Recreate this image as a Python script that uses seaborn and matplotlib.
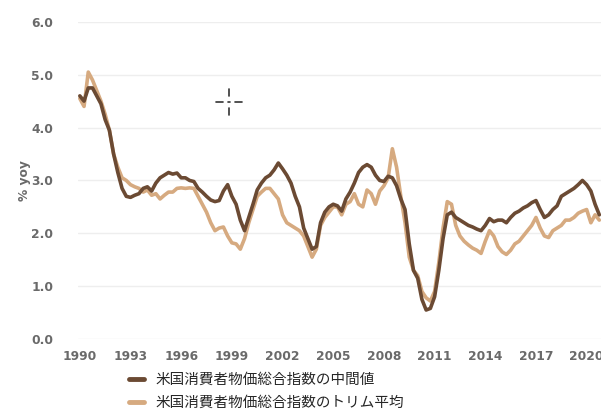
import matplotlib
matplotlib.use("Agg")
import matplotlib.pyplot as plt
from matplotlib.lines import Line2D
import seaborn as sns
import numpy as np
import pandas as pd

# 四半期ごとの値 (1990Q1 - 2020Q4)
median_cpi = [
    4.6, 4.5, 4.75, 4.75, 4.6, 4.45, 4.15, 3.95, 3.5, 3.15, 2.85, 2.7,
    2.68, 2.72, 2.75, 2.85, 2.88, 2.8, 2.95, 3.05, 3.1, 3.15, 3.12, 3.14,
    3.05, 3.05, 3.0, 2.98, 2.85, 2.78, 2.7, 2.63, 2.6, 2.62, 2.8, 2.92,
    2.7, 2.55, 2.25, 2.05, 2.3, 2.55, 2.82, 2.95, 3.05, 3.1, 3.2, 3.33,
    3.22, 3.1, 2.95, 2.7, 2.5, 2.1, 1.9, 1.7, 1.75, 2.2, 2.4, 2.5,
    2.55, 2.52, 2.42, 2.65, 2.78, 2.95, 3.15, 3.25, 3.3, 3.25, 3.1, 3.0,
    2.98, 3.08, 3.05, 2.9, 2.65, 2.45, 1.8, 1.3, 1.15, 0.75, 0.55, 0.58,
    0.8, 1.3, 1.9, 2.35, 2.4, 2.3, 2.25, 2.2, 2.15, 2.12, 2.08, 2.05,
    2.15, 2.28, 2.22, 2.25, 2.25, 2.2, 2.3, 2.38, 2.42, 2.48, 2.52, 2.58,
    2.62, 2.45, 2.3, 2.35, 2.45, 2.52, 2.7, 2.75, 2.8, 2.85, 2.92, 3.0,
    2.92, 2.8, 2.55, 2.35,
]
trimmed_cpi = [
    4.55, 4.4, 5.05, 4.9, 4.7, 4.5, 4.25, 3.95, 3.5, 3.25, 3.05, 3.0,
    2.92, 2.88, 2.85, 2.78, 2.82, 2.72, 2.75, 2.65, 2.72, 2.78, 2.78, 2.85,
    2.86, 2.85, 2.86, 2.85, 2.7, 2.55, 2.4, 2.2, 2.05, 2.1, 2.12, 1.95,
    1.82, 1.8, 1.7, 1.9, 2.2, 2.45, 2.7, 2.78, 2.85, 2.85, 2.75, 2.65,
    2.35, 2.2, 2.15, 2.1, 2.05, 1.95, 1.75, 1.55, 1.7, 2.15, 2.3, 2.4,
    2.5, 2.5, 2.35, 2.55, 2.6, 2.75, 2.55, 2.5, 2.82, 2.75, 2.55, 2.8,
    2.9, 3.05, 3.6, 3.25, 2.7, 2.2, 1.55, 1.3, 1.2, 0.9, 0.78, 0.72,
    0.9, 1.45, 2.1, 2.6, 2.55, 2.15, 1.95, 1.85, 1.78, 1.72, 1.68, 1.62,
    1.85, 2.05, 1.95, 1.75, 1.65, 1.6, 1.68, 1.8, 1.85, 1.95, 2.05, 2.15,
    2.3, 2.1, 1.95, 1.92, 2.05, 2.1, 2.15, 2.25, 2.25, 2.3, 2.38, 2.42,
    2.45, 2.2, 2.35, 2.25,
]
labels = ["米国消費者物価総合指数の中間値", "米国消費者物価総合指数のトリム平均"]
colors = ["#6b4a33", "#d6aa80"]
year_ticks = [1990, 1993, 1996, 1999, 2002, 2005, 2008, 2011, 2014, 2017, 2020]
y_ticks = [0.0, 1.0, 2.0, 3.0, 4.0, 5.0, 6.0]

years = 1990 + np.arange(len(median_cpi)) / 4
df = pd.concat([
    pd.DataFrame({"year": years, "value": median_cpi, "series": labels[0]}),
    pd.DataFrame({"year": years, "value": trimmed_cpi, "series": labels[1]}),
])

sns.set_style("white")
plt.rcParams["font.family"] = ["DejaVu Sans", "Noto Sans CJK JP"]

fig = plt.figure(figsize=(6.01, 4.12), dpi=100)
ax = fig.add_axes([0.13, 0.177, 0.87, 0.77])

sns.lineplot(data=df, x="year", y="value", hue="series", hue_order=[labels[1], labels[0]],
             palette={labels[0]: colors[0], labels[1]: colors[1]},
             linewidth=2.6, ax=ax, legend=False)

tick_style = dict(fontweight="bold", fontsize=8.8, color="#6a6a6a")
ax.set_xlim(1989.9, 2020.85)
ax.set_ylim(0, 6)
ax.set_xticks(year_ticks, labels=[str(y) for y in year_ticks], **tick_style)
ax.set_yticks(y_ticks, labels=[f"{v:.1f}" for v in y_ticks], **tick_style)
ax.tick_params(axis="both", length=0)
ax.tick_params(axis="y", pad=18)
ax.tick_params(axis="x", pad=8)
ax.yaxis.grid(True, color="#eeeeee", linewidth=1)
ax.set_axisbelow(True)
sns.despine(ax=ax, left=True, bottom=True)
ax.set_xlabel("")
ax.set_ylabel("% yoy", fontsize=8.8, color="#6a6a6a", fontweight="bold")
ax.yaxis.set_label_coords(-0.09, 0.5)

handles = [Line2D([], [], color=c, linewidth=3.5) for c in colors]
leg = fig.legend(handles, labels, loc="upper left", bbox_to_anchor=(0.215, 0.095),
                 frameon=False, fontsize=10.5, handlelength=1.0, handletextpad=0.8,
                 labelspacing=0.6, borderaxespad=0, borderpad=0)
for t in leg.get_texts():
    t.set_family(["Noto Sans CJK JP", "DejaVu Sans"])

# 十字カーソル
cx, cy = 229 / 601, 1 - 102 / 412
dx, dy = 1 / 601, 1 / 412
for seg in [((cx - 13 * dx, cx - 6 * dx), (cy, cy)), ((cx + 6 * dx, cx + 13 * dx), (cy, cy)),
            ((cx, cx), (cy + 6 * dy, cy + 13 * dy)), ((cx, cx), (cy - 13 * dy, cy - 6 * dy)),
            ((cx - 1 * dx, cx + 1 * dx), (cy, cy))]:
    fig.add_artist(Line2D(seg[0], seg[1], color="#333333", linewidth=1.2, transform=fig.transFigure))

fig.savefig("out.png", dpi=100)
